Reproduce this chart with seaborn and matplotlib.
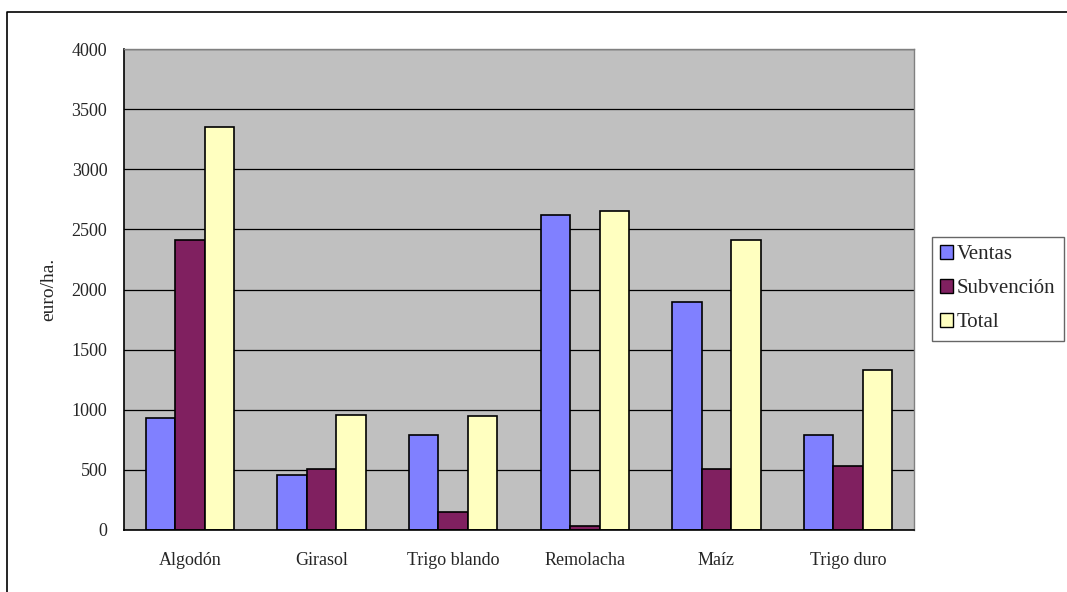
import numpy as np
import pandas as pd
import matplotlib
matplotlib.use("Agg")
import matplotlib.pyplot as plt
import seaborn as sns
from matplotlib.patches import Rectangle
from matplotlib.lines import Line2D

# Data
cultivos = ['Algodón', 'Girasol', 'Trigo blando', 'Remolacha', 'Maíz', 'Trigo duro']
ventas = [930, 460, 790, 2620, 1900, 790]
subvencion = [2410, 510, 150, 30, 510, 530]
total = [3350, 955, 945, 2650, 2410, 1330]
series = ['Ventas', 'Subvención', 'Total']
colores = ['#8080FF', '#802060', '#FFFFC0']

df = pd.DataFrame({'cultivo': cultivos, 'Ventas': ventas,
                   'Subvención': subvencion, 'Total': total})
df = df.melt(id_vars='cultivo', var_name='serie', value_name='valor')

sns.set_style('white')
plt.rcParams['font.family'] = ['Liberation Serif', 'DejaVu Serif']

fig = plt.figure(figsize=(10.67, 5.92), dpi=100)
ax = fig.add_axes([124/1067, 1 - 530/592, (914-124)/1067, (530-49)/592])
ax.set_facecolor('#C0C0C0')

sns.barplot(data=df, x='cultivo', y='valor', hue='serie', hue_order=series,
            palette=colores, width=0.67, edgecolor='black', linewidth=1.2,
            saturation=1, ax=ax, legend=False)

ax.set_ylim(0, 4000)
ax.set_xlim(-0.5, 5.5)
ax.set_yticks(np.arange(0, 4001, 500))
ax.yaxis.grid(True, color='black', linewidth=0.9)
ax.set_axisbelow(True)
ax.tick_params(axis='y', length=5, width=1, color='black', labelsize=13, pad=7)
ax.tick_params(axis='x', which='major', length=0, labelsize=13, pad=16)
ax.set_xticks(np.arange(-0.5, 6, 1), minor=True)
ax.tick_params(axis='x', which='minor', length=5, width=1, color='black')
ax.set_xlabel('')
ax.set_ylabel('euro/ha.', fontsize=14)
ax.yaxis.set_label_coords(-67/790, 0.5)

for s in ['left', 'bottom']:
    ax.spines[s].set_color('black')
    ax.spines[s].set_linewidth(1.2)
for s in ['top', 'right']:
    ax.spines[s].set_color('#808080')
    ax.spines[s].set_linewidth(1)

handles = [Rectangle((0, 0), 1, 1, facecolor=c, edgecolor='black', linewidth=1) for c in colores]
leg = fig.legend(handles, series, loc='upper left', bbox_to_anchor=(932/1067, 1 - 237/592),
                 frameon=True, fancybox=False, edgecolor='#404040', fontsize=15,
                 handlelength=0.6, handleheight=0.6, handletextpad=0.2,
                 labelspacing=0.72, borderpad=0.4, borderaxespad=0)
leg.get_frame().set_linewidth(1)

# outer chart border (only top and left edges are visible)
fig.add_artist(Line2D([7/1067, 7/1067, 1], [0, 1 - 12/592, 1 - 12/592],
                      transform=fig.transFigure, color='black', linewidth=1.2))

fig.savefig('out.png', dpi=100)
